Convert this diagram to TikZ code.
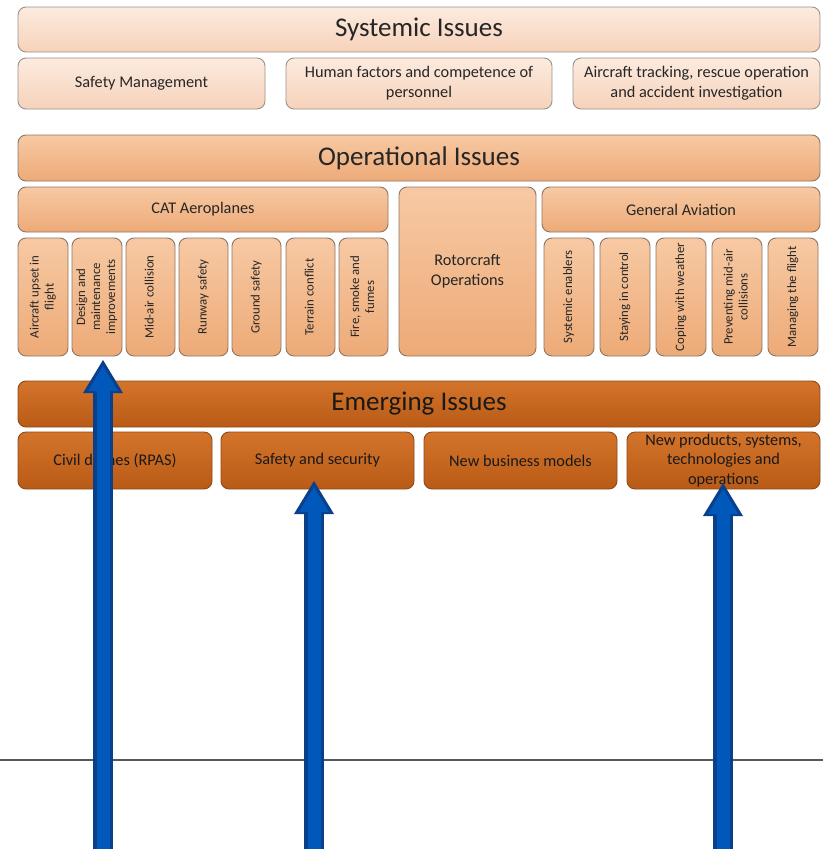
\documentclass[tikz,border=0pt]{standalone}
\usepackage{fontspec}
\setmainfont{Carlito}
\usetikzlibrary{arrows.meta}

\definecolor{sysTop}{HTML}{FCEBDF}
\definecolor{sysBot}{HTML}{F6D2BA}
\definecolor{sysLine}{HTML}{9A918B}
\definecolor{opTop}{HTML}{F7C9A3}
\definecolor{opBot}{HTML}{EDAA77}
\definecolor{opLine}{HTML}{8E7665}
\definecolor{emTop}{HTML}{D4742B}
\definecolor{emBot}{HTML}{B95B16}
\definecolor{emLine}{HTML}{8A4A1C}
\definecolor{arrowDark}{HTML}{0A3F8C}
\definecolor{arrowBlue}{HTML}{0058BA}
\definecolor{rule}{HTML}{55575C}

\tikzset{
  box/.style={rounded corners=8pt, inner sep=1pt, align=center, line width=0.9pt},
  sysbox/.style={box, draw=sysLine, top color=sysTop, bottom color=sysBot, text=black!85},
  opbox/.style={box, draw=opLine, top color=opTop, bottom color=opBot, text=black!85},
  embox/.style={box, draw=emLine, top color=emTop, bottom color=emBot, text=black!90},
  headtext/.style={font=\fontsize{27}{30}\selectfont},
  subtext/.style={font=\fontsize{16.3}{20}\selectfont},
  vtext/.style={font=\fontsize{12.8}{15}\selectfont},
  emsub/.style={font=\fontsize{16.3}{19.5}\selectfont},
  arrowedge/.style={draw=arrowDark, line width=20pt,
    -{Triangle[width=40pt,length=33pt,line width=0pt]}},
  arrowcore/.style={draw=arrowBlue, line width=13pt, shorten >=6pt,
    -{Triangle[width=30pt,length=25pt,line width=0pt]}},
  rulestyle/.style={draw=rule, line width=2.2pt},
}

% \ibox{name}{style}{x1}{y1}{x2}{y2}{text}
\newcommand\ibox[7]{%
  \pgfmathsetmacro\boxwd{#5-#3}%
  \pgfmathsetmacro\boxht{#6-#4}%
  \node[#2, minimum width=\boxwd pt, minimum height=\boxht pt]
    (#1) at ({(#3+#5)/2},{(#4+#6)/2}) {#7};}
\newcommand\vlab[1]{\rotatebox{90}{\begin{tabular}{@{}c@{}}#1\end{tabular}}}

\begin{document}
\begin{tikzpicture}[x=1pt,y=-1pt]
\useasboundingbox (0,0) rectangle (823,849);

% Systemic issues
\ibox{sys}{sysbox,headtext}{18}{7}{820}{52}{Systemic Issues}
\ibox{sm}{sysbox,subtext}{18}{58}{265}{109}{Safety Management}
\ibox{hf}{sysbox,subtext}{286}{58}{552}{109}{Human factors and competence of\\personnel}
\ibox{at}{sysbox,subtext}{573}{58}{820}{109}{Aircraft tracking, rescue operation\\and accident investigation}

% Operational issues
\ibox{op}{opbox,headtext}{18}{135}{820}{181}{Operational Issues}
\ibox{cat}{opbox,subtext}{18}{187}{388}{232}{CAT Aeroplanes}
\ibox{rot}{opbox,subtext}{399}{187}{536}{356}{Rotorcraft\\Operations}
\ibox{ga}{opbox,subtext}{542}{187}{820}{232}{General Aviation}

\ibox{c1}{opbox,vtext}{18}{238}{68}{356}{\vlab{Aircraft upset in\\flight}}
\ibox{c2}{opbox,vtext}{72}{238}{122}{356}{\vlab{Design and\\maintenance\\improvements}}
\ibox{c3}{opbox,vtext}{126}{238}{175}{356}{\vlab{Mid-air collision}}
\ibox{c4}{opbox,vtext}{179}{238}{228}{356}{\vlab{Runway safety}}
\ibox{c5}{opbox,vtext}{232}{238}{281}{356}{\vlab{Ground safety}}
\ibox{c6}{opbox,vtext}{286}{238}{335}{356}{\vlab{Terrain conflict}}
\ibox{c7}{opbox,vtext}{339}{238}{388}{356}{\vlab{Fire, smoke and\\fumes}}

\ibox{g1}{opbox,vtext}{544}{238}{594}{356}{\vlab{Systemic enablers}}
\ibox{g2}{opbox,vtext}{600}{238}{650}{356}{\vlab{Staying in control}}
\ibox{g3}{opbox,vtext}{656}{238}{706}{356}{\vlab{Coping with weather}}
\ibox{g4}{opbox,vtext}{712}{238}{762}{356}{\vlab{Preventing mid-air\\collisions}}
\ibox{g5}{opbox,vtext}{768}{238}{818}{356}{\vlab{Managing the flight}}

% Emerging issues
\ibox{em}{embox,headtext}{18}{381}{820}{427}{Emerging Issues}
\ibox{e1}{embox,emsub}{18}{432}{212}{489}{Civil drones (RPAS)}
\ibox{e2}{embox,emsub}{221}{432}{414}{489}{Safety and security}
\ibox{e3}{embox,emsub}{424}{432}{617}{489}{New business models}
\ibox{e4}{embox,emsub}{627}{432}{820}{489}{New products, systems,\\technologies and\\operations}

% Horizontal rule
\coordinate (rl) at (0,760);
\coordinate (rr) at (823,760);
\draw[rulestyle] (rl) -- (rr);

% Upward arrows
\coordinate (a1s) at (103,852); \coordinate (a1e) at (103,360);
\coordinate (a2s) at (314,852); \coordinate (a2e) at (314,481);
\coordinate (a3s) at (723,852); \coordinate (a3e) at (723,483);
\foreach \a in {a1,a2,a3}{
  \draw[arrowedge] (\a s) -- (\a e);
  \draw[arrowcore] (\a s) -- (\a e);
}
\end{tikzpicture}
\end{document}
